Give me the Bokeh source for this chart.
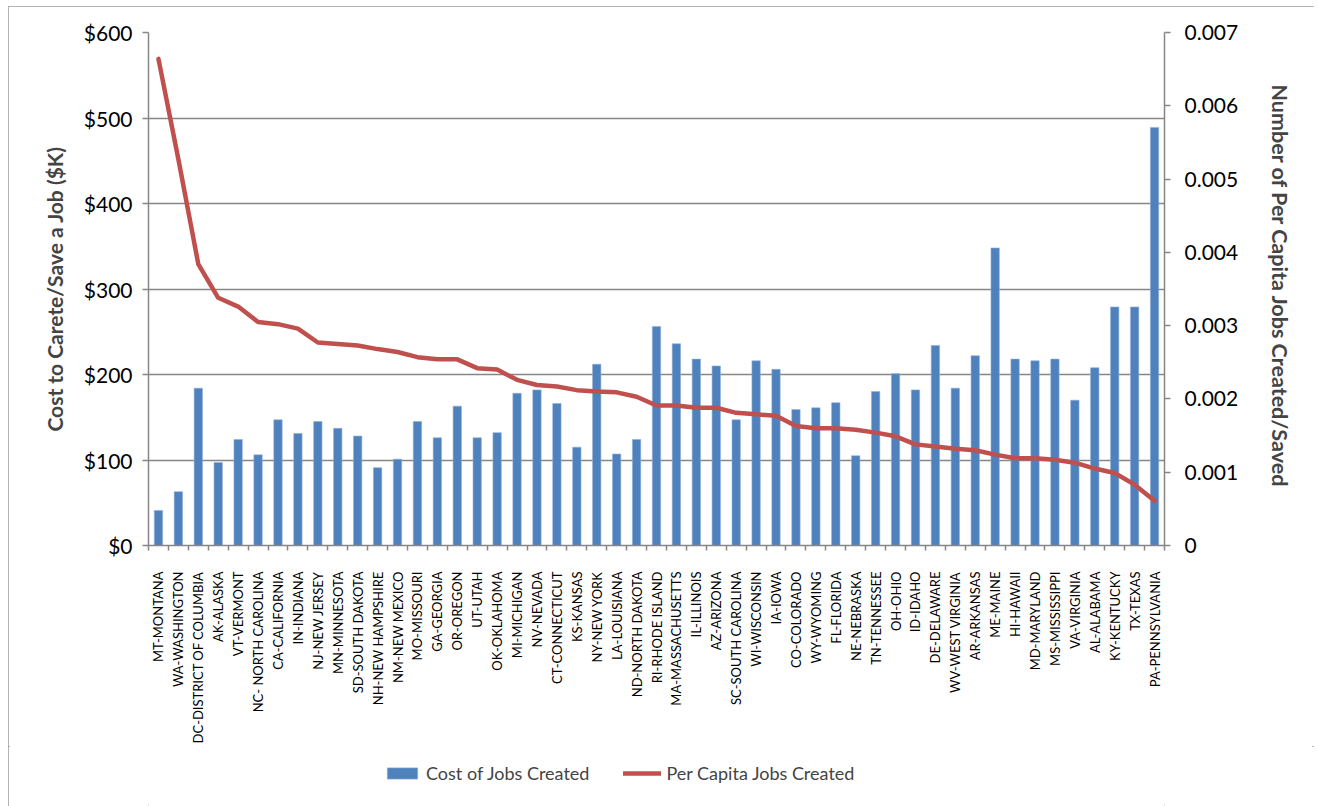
import numpy as np
from bokeh.plotting import figure
from bokeh.layouts import column
from bokeh.models import (Range1d, LinearAxis, FixedTicker, NumeralTickFormatter,
                          Legend, LegendItem, ColumnDataSource)
from bokeh.embed import file_html
from bokeh.resources import INLINE
import math

states = ["MT-MONTANA", "WA-WASHINGTON", "DC-DISTRICT OF COLUMBIA", "AK-ALASKA", "VT-VERMONT",
          "NC- NORTH CAROLINA", "CA-CALIFORNIA", "IN-INDIANA", "NJ-NEW JERSEY", "MN-MINNESOTA",
          "SD-SOUTH DAKOTA", "NH-NEW HAMPSHIRE", "NM-NEW MEXICO", "MO-MISSOURI", "GA-GEORGIA",
          "OR-OREGON", "UT-UTAH", "OK-OKLAHOMA", "MI-MICHIGAN", "NV-NEVADA",
          "CT-CONNECTICUT", "KS-KANSAS", "NY-NEW YORK", "LA-LOUISIANA", "ND-NORTH DAKOTA",
          "RI-RHODE ISLAND", "MA-MASSACHUSETTS", "IL-ILLINOIS", "AZ-ARIZONA", "SC-SOUTH CAROLINA",
          "WI-WISCONSIN", "IA-IOWA", "CO-COLORADO", "WY-WYOMING", "FL-FLORIDA",
          "NE-NEBRASKA", "TN-TENNESSEE", "OH-OHIO", "ID-IDAHO", "DE-DELAWARE",
          "WV-WEST VIRGINIA", "AR-ARKANSAS", "ME-MAINE", "HI-HAWAII", "MD-MARYLAND",
          "MS-MISSISSIPPI", "VA-VIRGINIA", "AL-ALABAMA", "KY-KENTUCKY", "TX-TEXAS",
          "PA-PENNSYLVANIA"]

cost_k = [41, 63, 184, 97, 124, 106, 147, 131, 145, 137,
          128, 91, 101, 145, 126, 163, 126, 132, 178, 182,
          166, 115, 212, 107, 124, 256, 236, 218, 210, 147,
          216, 206, 159, 161, 167, 105, 180, 201, 182, 234,
          184, 222, 348, 218, 216, 218, 170, 208, 279, 279,
          489]

per_capita = [0.00664, 0.00527, 0.00384, 0.00338, 0.00326, 0.00305, 0.00302, 0.00296, 0.00277, 0.00275,
              0.00273, 0.00268, 0.00264, 0.00257, 0.00254, 0.00254, 0.00242, 0.00240, 0.00226, 0.00219,
              0.00217, 0.00212, 0.00210, 0.00209, 0.00203, 0.00191, 0.00191, 0.00188, 0.00188, 0.00181,
              0.00179, 0.00177, 0.00163, 0.00160, 0.00160, 0.00158, 0.00154, 0.00149, 0.00138, 0.00135,
              0.00132, 0.00130, 0.00124, 0.00119, 0.00119, 0.00117, 0.00113, 0.00105, 0.00099, 0.00083,
              0.00061]

left_ticks = [0, 100, 200, 300, 400, 500, 600]
right_ticks = [0, 0.001, 0.002, 0.003, 0.004, 0.005, 0.006, 0.007]

n = len(states)
xc = np.arange(n) + 0.5
src = ColumnDataSource(dict(x=xc, cost=cost_k, pc=per_capita, name=states))

FONT = "Lato"
GREY = "#868686"
BAR_KW = dict(x="x", top="cost", width=0.42, source=src, fill_color="#4F81BD",
              line_color="#8FB0DA", line_width=0.6)
LINE_KW = dict(x="x", y="pc", source=src, line_color="#C0504D",
               line_width=4.5, line_cap="round", line_join="round")

p = figure(width=1306, height=740, output_backend="svg", toolbar_location=None,
           x_range=Range1d(0, n), y_range=Range1d(0, 600),
           min_border_left=140, min_border_right=150, min_border_top=26, min_border_bottom=192)
p.extra_y_ranges = {"pc": Range1d(0, 0.007)}
p.outline_line_color = None
p.background_fill_color = "white"
p.border_fill_color = "white"

bars = p.vbar(**BAR_KW)
line = p.line(y_range_name="pc", **LINE_KW)

# x axis
xa = p.xaxis[0]
xa.ticker = FixedTicker(ticks=list(xc), minor_ticks=list(np.arange(n + 1)))
xa.major_label_overrides = {float(x): s for x, s in zip(xc, states)}
xa.major_label_orientation = math.pi / 2
xa.major_label_text_font = FONT
xa.major_label_text_font_size = "13px"
xa.major_label_text_color = "black"
xa.major_tick_line_color = None
xa.major_tick_out = 0
xa.major_tick_in = 0
xa.major_label_standoff = 21
xa.minor_tick_line_color = GREY
xa.minor_tick_line_width = 1.5
xa.minor_tick_out = 5
xa.minor_tick_in = 0
xa.axis_line_color = GREY
xa.axis_line_width = 1.5

# left axis
ya = p.yaxis[0]
ya.ticker = FixedTicker(ticks=left_ticks)
ya.formatter = NumeralTickFormatter(format="$0")
ya.axis_label = "Cost to Carete/Save a Job ($K)"
ya.axis_label_text_font = FONT
ya.axis_label_text_font_style = "bold"
ya.axis_label_text_font_size = "21px"
ya.axis_label_standoff = 14
ya.major_label_text_font = FONT
ya.major_label_text_font_size = "21px"
ya.major_label_text_color = "black"
ya.major_label_standoff = 10
ya.major_tick_out = 6
ya.major_tick_in = 0
ya.major_tick_line_color = GREY
ya.major_tick_line_width = 1.5
ya.minor_tick_line_color = None
ya.axis_line_color = GREY
ya.axis_line_width = 1.5

# right axis
ra = LinearAxis(y_range_name="pc", ticker=FixedTicker(ticks=right_ticks),
                formatter=NumeralTickFormatter(format="0.[000]"))
ra.axis_label = "Number of Per Capita  Jobs Created/Saved"
ra.axis_label_text_font = FONT
ra.axis_label_text_font_style = "bold"
ra.axis_label_text_font_size = "21.5px"
ra.axis_label_standoff = 26
ra.major_label_text_font = FONT
ra.major_label_text_font_size = "21px"
ra.major_label_text_color = "black"
ra.major_label_standoff = 14
ra.major_tick_out = 6
ra.major_tick_in = 0
ra.major_tick_line_color = GREY
ra.major_tick_line_width = 1.5
ra.minor_tick_line_color = None
ra.axis_line_color = GREY
ra.axis_line_width = 1.5
p.add_layout(ra, "right")

p.xgrid.grid_line_color = None
p.ygrid.ticker = FixedTicker(ticks=left_ticks)
p.ygrid.grid_line_color = GREY
p.ygrid.grid_line_width = 1.5

# legend strip below the chart
q = figure(width=1306, height=60, output_backend="svg", toolbar_location=None,
           x_range=Range1d(0, n), y_range=Range1d(0, 600),
           x_axis_location=None, y_axis_location=None,
           min_border_left=0, min_border_right=0, min_border_top=0, min_border_bottom=0)
q.extra_y_ranges = {"pc": Range1d(0, 0.007)}
q.outline_line_color = None
q.grid.grid_line_color = None
q.background_fill_color = "white"
q.border_fill_color = "white"
lb = q.vbar(visible=False, **BAR_KW)
ll = q.line(y_range_name="pc", visible=False, **LINE_KW)

legend = Legend(items=[LegendItem(label="Cost of Jobs Created", renderers=[lb]),
                       LegendItem(label="Per Capita Jobs Created", renderers=[ll])],
                location=(235, 22), orientation="horizontal", click_policy="none",
                glyph_width=38, glyph_height=14, label_standoff=5, spacing=34,
                padding=0, margin=0, border_line_color=None, background_fill_alpha=0,
                label_text_font=FONT, label_text_font_size="18px", label_height=20)
q.add_layout(legend, "center")

layout = column(p, q, spacing=0,
                styles={"outline": "2px solid #9a9a9a", "outline-offset": "-2px",
                        "margin-left": "8px", "margin-top": "6px"})

open("out.html", "w").write(file_html(layout, INLINE))
